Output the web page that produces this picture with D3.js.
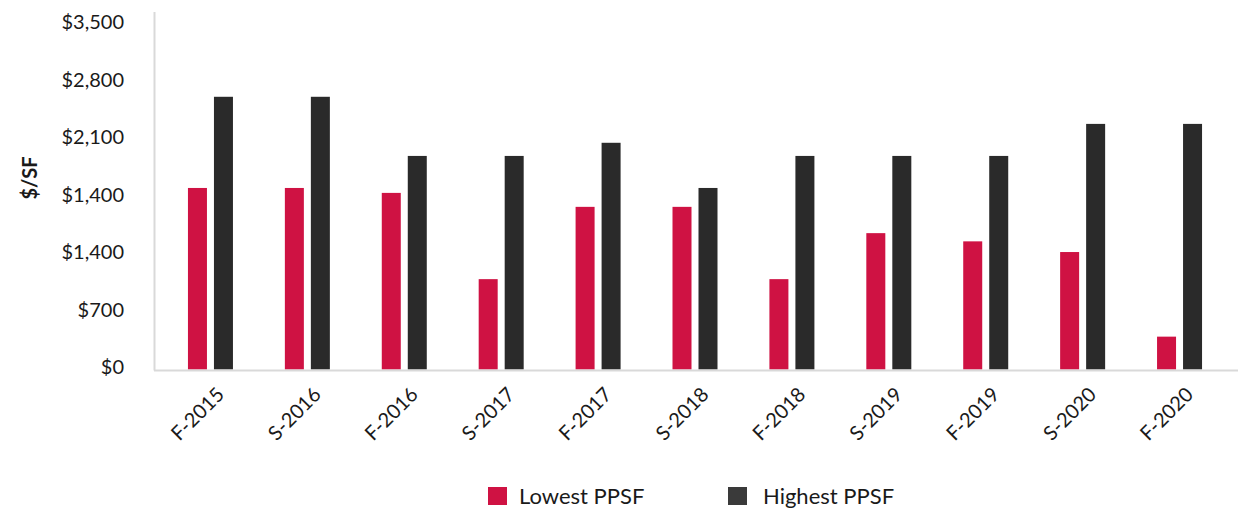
<!DOCTYPE html>
<html>
<head>
<meta charset="utf-8">
<script src="https://cdn.jsdelivr.net/npm/d3@7"></script>
<style>
  html, body { margin: 0; padding: 0; background: #fff; }
  svg { display: block; font-family: Lato, "Open Sans", sans-serif; }
</style>
</head>
<body>
<svg id="chart" width="1238" height="509"></svg>
<script>
const categories = ["F-2015","S-2016","F-2016","S-2017","F-2017","S-2018","F-2018","S-2019","F-2019","S-2020","F-2020"];
const seriesNames = ["Lowest PPSF","Highest PPSF"];
const lowestPPSF  = [2210, 2210, 2150, 1100, 1980, 1980, 1100, 1660, 1560, 1430, 400];
const highestPPSF = [3320, 3320, 2600, 2600, 2760, 2210, 2600, 2600, 2600, 2990, 2990];
const tickValues = [0, 700, 1400, 2100, 2800, 3500, 4200];
const tickLabels = ["$0", "$700", "$1,400", "$1,400", "$2,100", "$2,800", "$3,500"];
const colors = ["#cf1243", "#2a2a2a"];
const legendColors = ["#cf1243", "#3a3a3a"];

const svg = d3.select("#chart");
const y0 = 369.5, yTop = 369.5 - 57.5 * 6;
const y = d3.scaleLinear().domain([0, 4200]).range([y0, yTop]);
const x = d3.scaleBand().domain(categories).range([162, 1228]).padding(0);
const groupW = 45;
const x1 = d3.scaleBand().domain(seriesNames).range([0, groupW]).paddingInner(2 - 45/26).paddingOuter(0);

const data = categories.map((c, i) => ({cat: c, vals: [lowestPPSF[i], highestPPSF[i]]}));

// bars
const g = svg.append("g");
data.forEach(d => {
  const cx = x(d.cat) + x.bandwidth() / 2;
  seriesNames.forEach((s, k) => {
    g.append("rect")
      .attr("x", cx - groupW / 2 + x1(s))
      .attr("width", x1.bandwidth())
      .attr("y", y(d.vals[k]))
      .attr("height", y0 - y(d.vals[k]))
      .attr("fill", colors[k]);
  });
});

// axis lines
svg.append("line").attr("x1", 154.5).attr("x2", 154.5).attr("y1", 12).attr("y2", 370.5)
  .attr("stroke", "#d9d9d9").attr("stroke-width", 2);
svg.append("line").attr("x1", 154).attr("x2", 1238).attr("y1", 370.5).attr("y2", 370.5)
  .attr("stroke", "#d9d9d9").attr("stroke-width", 2);

// y axis labels
const yAxis = d3.axisLeft(y).tickValues(tickValues)
  .tickFormat((d, i) => tickLabels[i]).tickSize(0).tickPadding(0);
const ya = svg.append("g").attr("transform", "translate(124,0)").call(yAxis);
ya.select(".domain").remove();
ya.selectAll("text").attr("font-size", 20).attr("fill", "#1a1a1a")
  .attr("font-family", "Lato, sans-serif").attr("dy", "0.2em");

// y title
svg.append("text").attr("transform", "translate(37,178) rotate(-90)")
  .attr("text-anchor", "middle").attr("font-size", 20).attr("font-weight", "bold")
  .attr("fill", "#1a1a1a").text("$/SF");

// x axis labels
const xAxis = d3.axisBottom(x).tickSize(0).tickPadding(0);
const xa = svg.append("g").call(xAxis);
xa.select(".domain").remove();
xa.selectAll(".tick").attr("transform", d => `translate(${x(d) + x.bandwidth()/2 + 5},386)`);
xa.selectAll("text").attr("font-size", 20).attr("fill", "#1a1a1a")
  .attr("font-family", "Lato, sans-serif")
  .attr("text-anchor", "end").attr("x", 0).attr("y", 0).attr("dy", "0.7em")
  .attr("transform", "rotate(-45)");

// legend
const legendX = [488, 728];
const legendTextX = [519, 763];
seriesNames.forEach((s, k) => {
  svg.append("rect").attr("x", legendX[k]).attr("y", 487).attr("width", 19).attr("height", 18)
    .attr("fill", legendColors[k]);
  svg.append("text").attr("x", legendTextX[k]).attr("y", 504)
    .attr("font-size", 22).attr("fill", "#1a1a1a").text(s);
});
</script>
</body>
</html>
